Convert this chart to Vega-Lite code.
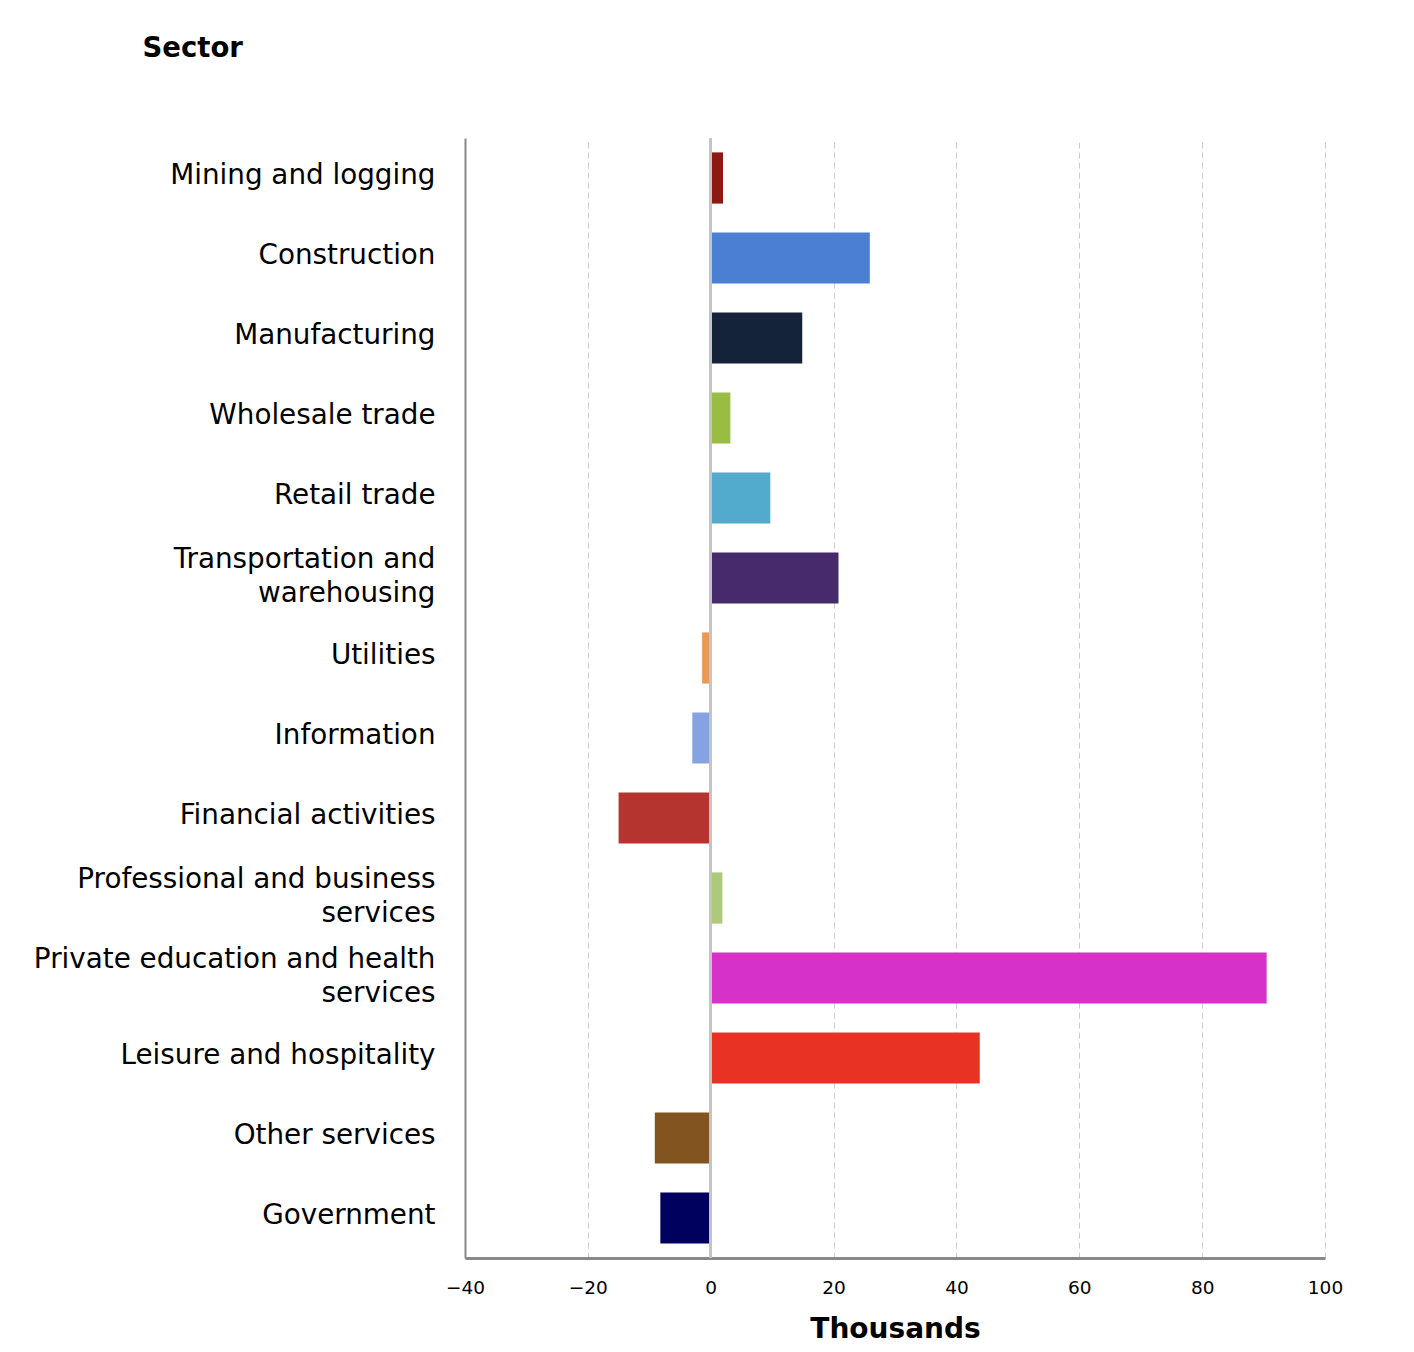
{
  "$schema": "https://vega.github.io/schema/vega-lite/v6.json",
  "autosize": "none",
  "width": 860,
  "height": 1120,
  "padding": {"left": 465, "top": 138, "right": 89, "bottom": 94},
  "background": "white",
  "config": {
    "view": {"stroke": null},
    "font": "DejaVu Sans"
  },
  "data": {
    "values": [
      {"sector": "Mining and logging", "value": 2.0},
      {"sector": "Construction", "value": 25.9},
      {"sector": "Manufacturing", "value": 14.9},
      {"sector": "Wholesale trade", "value": 3.2},
      {"sector": "Retail trade", "value": 9.7},
      {"sector": "Transportation and warehousing", "value": 20.8},
      {"sector": "Utilities", "value": -1.4},
      {"sector": "Information", "value": -3.0},
      {"sector": "Financial activities", "value": -15.0},
      {"sector": "Professional and business services", "value": 1.9},
      {"sector": "Private education and health services", "value": 90.5},
      {"sector": "Leisure and hospitality", "value": 43.8},
      {"sector": "Other services", "value": -9.1},
      {"sector": "Government", "value": -8.2}
    ]
  },
  "layer": [
    {
      "mark": {"type": "bar"},
      "encoding": {
        "y": {
          "field": "sector",
          "type": "nominal",
          "sort": null,
          "scale": {"paddingInner": 0.36, "paddingOuter": 0.18},
          "axis": {
            "title": "Sector",
            "titleAngle": 0,
            "titleAlign": "left",
            "titleBaseline": "middle",
            "titleX": -323,
            "titleY": -90,
            "titleFont": "DejaVu Sans",
            "titleFontSize": 27.5,
            "titleFontWeight": "bold",
            "titleColor": "#000000",
            "labelFont": "DejaVu Sans",
            "labelFontSize": 27.8,
            "labelColor": "#000000",
            "labelLimit": 500,
            "labelPadding": 30,
            "labelLineHeight": 34,
            "labelOffset": {"condition": {"test": "datum.value == 'Transportation and warehousing' || datum.value == 'Professional and business services' || datum.value == 'Private education and health services'", "value": -18}, "value": -2},
            "labelExpr": "datum.label == 'Transportation and warehousing' ? ['Transportation and', 'warehousing'] : datum.label == 'Professional and business services' ? ['Professional and business', 'services'] : datum.label == 'Private education and health services' ? ['Private education and health', 'services'] : datum.label",
            "ticks": false,
            "grid": false,
            "domainColor": "#888888",
            "domainWidth": 2
          }
        },
        "x": {
          "field": "value",
          "type": "quantitative",
          "scale": {"domain": [-40, 100], "nice": false, "zero": false},
          "axis": {
            "title": "Thousands",
            "titleFont": "DejaVu Sans",
            "titleFontSize": 28,
            "titleFontWeight": "bold",
            "titleColor": "#000000",
            "titlePadding": 19,
            "values": [-40, -20, 0, 20, 40, 60, 80, 100],
            "labelFont": "DejaVu Sans",
            "labelFontSize": 18.5,
            "labelColor": "#000000",
            "labelPadding": 20,
            "labelFlush": false,
            "ticks": false,
            "grid": true,
            "gridColor": "#cccccc",
            "gridDash": [6, 4],
            "gridWidth": 1,
            "domainColor": "#888888",
            "domainWidth": 3
          }
        },
        "color": {
          "field": "sector",
          "type": "nominal",
          "legend": null,
          "scale": {
            "domain": ["Mining and logging", "Construction", "Manufacturing", "Wholesale trade", "Retail trade", "Transportation and warehousing", "Utilities", "Information", "Financial activities", "Professional and business services", "Private education and health services", "Leisure and hospitality", "Other services", "Government"],
            "range": ["#8b1a12", "#4a7fd4", "#15233a", "#98bd42", "#52aacc", "#472a6b", "#e89a55", "#84a3e0", "#b53430", "#acca7a", "#d631c8", "#e83324", "#82541f", "#00005e"]
          }
        }
      }
    },
    {
      "mark": {"type": "rule", "color": "#c4c4c4", "strokeWidth": 2},
      "encoding": {
        "x": {"datum": 0, "type": "quantitative"}
      }
    }
  ]
}
